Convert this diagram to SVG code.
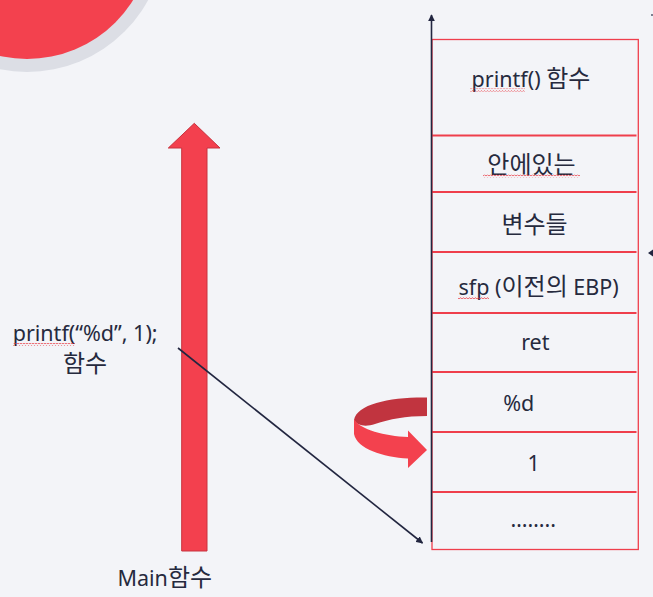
<svg xmlns="http://www.w3.org/2000/svg" width="653" height="597" viewBox="0 0 653 597">
<style>
.t{font-family:"Noto Sans","Noto Sans CJK KR",sans-serif;font-size:21.5px;fill:#262a3e}
.k{font-family:"Noto Sans CJK KR",sans-serif;font-size:24px}
.sep{stroke:#ef3e4c;stroke-width:2;fill:none}
.ax{stroke:#222640;stroke-width:1.6;fill:none}
</style>
<defs>
<pattern id="sq" width="3" height="3" patternUnits="userSpaceOnUse">
<path d="M0,2.2 L1.5,0.6 L3,2.2" stroke="#e8323c" stroke-width="0.8" fill="none"/>
</pattern>
<marker id="ah" viewBox="0 0 10 10" refX="9" refY="5" markerWidth="7" markerHeight="7" markerUnits="userSpaceOnUse" orient="auto">
<path d="M0,0 L10,5 L0,10 Z" fill="#222640"/>
</marker>
</defs>
<rect width="653" height="597" fill="#f3f4f8"/>
<g id="corner">
<circle cx="27" cy="-66" r="138" fill="#dcdee5"/>
<circle cx="27" cy="-66" r="125" fill="#f3414e"/>
</g>
<g id="main-arrow">
<path d="M181.7,551 L181.7,148 L168.3,148 L194.3,123.3 L220,148 L207,148 L207,551 Z" fill="#f3404e" stroke="#c8323e" stroke-width="1"/>
</g>
<g id="stack">
<rect x="432" y="39.5" width="206.3" height="510" fill="none" stroke="#ef3e4c" stroke-width="1.3"/>
<line class="sep" x1="431" y1="135.5" x2="636.5" y2="135.5"/>
<line class="sep" x1="431" y1="192" x2="636.5" y2="192"/>
<line class="sep" x1="431" y1="252" x2="636.5" y2="252"/>
<line class="sep" x1="431" y1="313" x2="636.5" y2="313"/>
<line class="sep" x1="431" y1="372" x2="636.5" y2="372"/>
<line class="sep" x1="431" y1="432" x2="636.5" y2="432"/>
<line class="sep" x1="431" y1="492" x2="636.5" y2="492"/>
</g>
<g id="labels">
<text class="t" x="531" y="87" text-anchor="middle">printf() <tspan class="k">함수</tspan></text>
<text class="t k" x="531.5" y="173" text-anchor="middle">안에있는</text>
<text class="t k" x="534.5" y="233" text-anchor="middle">변수들</text>
<text class="t" x="458.5" y="295">sfp (<tspan class="k">이전의</tspan> EBP)</text>
<text class="t" x="535.3" y="350" text-anchor="middle">ret</text>
<text class="t" x="518.8" y="411" text-anchor="middle">%d</text>
<text class="t" x="533.7" y="471" text-anchor="middle">1</text>
<text class="t" x="533.3" y="527" text-anchor="middle">……..</text>
<text class="t" x="12.7" y="341">printf(“%d”, 1);</text>
<text class="t k" x="85" y="372" text-anchor="middle">함수</text>
<text class="t" x="117.5" y="586">Main<tspan class="k">함수</tspan></text>
</g>
<g id="spell">
<rect x="470" y="88.5" width="55" height="3" fill="url(#sq)"/>
<rect x="483" y="174.5" width="97" height="3" fill="url(#sq)"/>
<rect x="458" y="296" width="31" height="3" fill="url(#sq)"/>
<rect x="13" y="343" width="62" height="3" fill="url(#sq)"/>
</g>
<g id="curl">
<path d="M427,397.5 C390,397 357,404 354,420 C357,426 366,427 375,424 C390,419 405,416 427,416 Z" fill="#c1343f"/>
<path d="M354,419 L354,434 C357,449 383,457 408,458.5 L408,468 L427,450 L408,430.5 L408,437 C385,436 360,430 354,419 Z" fill="#f3414e"/>
</g>
<g id="connectors">
<line class="ax" x1="431.5" y1="542" x2="431.5" y2="15" marker-end="url(#ah)"/>
<line class="ax" x1="178" y1="348" x2="422.5" y2="543" marker-end="url(#ah)"/>
<path d="M653,249.5 L648,253 L653,256.5 Z" fill="#222640"/>
<circle cx="652" cy="15" r="1" fill="#555a6e"/>
</g>
</svg>
